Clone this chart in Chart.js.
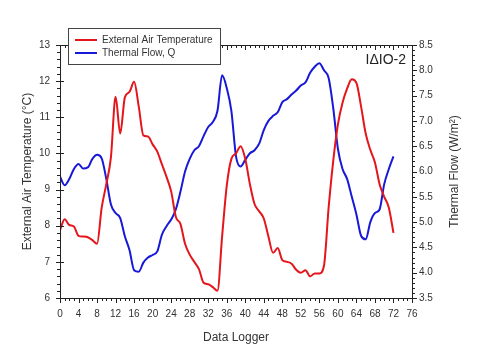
<!DOCTYPE html>
<html>
<head>
<meta charset="utf-8">
<script src="https://cdn.jsdelivr.net/npm/chart.js@4"></script>
<style>
  html, body { margin: 0; padding: 0; background: #fff; }
  #wrap { width: 480px; height: 364px; }
</style>
</head>
<body>
<div id="wrap"><canvas id="chart" width="480" height="364"></canvas></div>
<script>
const logger = [];
for (let i = 0; i <= 72; i++) logger.push(i);

// External air temperature (°C), one reading per logger step
const airTemp = [
  7.88, 8.18, 8.02, 7.98, 7.72, 7.70, 7.68, 7.60, 7.50, 8.50,
  9.15, 9.90, 11.57, 10.55, 11.55, 11.70, 11.98, 11.30, 10.50, 10.47,
  10.25, 10.05, 9.70, 9.35, 8.95, 8.25, 8.05, 7.50, 7.20, 7.00,
  6.80, 6.42, 6.38, 6.30, 6.20, 7.70, 9.10, 9.85, 10.00, 10.20,
  9.85, 9.15, 8.60, 8.40, 8.20, 7.70, 7.25, 7.38, 7.05, 7.00,
  6.95, 6.78, 6.70, 6.77, 6.60, 6.68, 6.68, 6.90, 8.50, 9.80,
  10.80, 11.40, 11.80, 12.05, 11.95, 11.30, 10.55, 10.10, 9.75, 9.15,
  8.80, 8.50, 7.80
];

// Thermal flow Q (W/m2)
const thermalFlow = [
  5.90, 5.73, 5.85, 6.05, 6.15, 6.06, 6.08, 6.25, 6.33, 6.26,
  5.85, 5.35, 5.18, 5.08, 4.72, 4.45, 4.05, 4.02, 4.20, 4.30,
  4.35, 4.42, 4.75, 4.92, 5.05, 5.25, 5.60, 6.00, 6.25, 6.42,
  6.50, 6.70, 6.88, 6.98, 7.20, 7.90, 7.65, 7.20, 6.30, 6.10,
  6.23, 6.36, 6.42, 6.55, 6.82, 7.00, 7.10, 7.17, 7.37, 7.43,
  7.52, 7.60, 7.70, 7.76, 7.95, 8.07, 8.14, 8.00, 7.85, 7.25,
  6.45, 6.05, 5.85, 5.50, 5.15, 4.73, 4.66, 5.00, 5.18, 5.25,
  5.75, 6.05, 6.30
];

const seriesNames = ['External Air Temperature', 'Thermal Flow, Q'];
const seriesColors = ['rgb(228,22,28)', 'rgb(24,24,215)'];

const FONT = '"Liberation Sans", Arial, sans-serif';
const TXT = '#333';

// frame, minor ticks, legend box, label and right title
const decor = {
  id: 'decor',
  afterDraw(chart) {
    const { ctx, chartArea: a, scales } = chart;
    const x = scales.x, y = scales.y, y1 = scales.y1;
    ctx.save();
    ctx.strokeStyle = '#222';
    ctx.lineWidth = 1;
    ctx.strokeRect(a.left + 0.5, a.top + 0.5, a.right - a.left, a.bottom - a.top);

    ctx.beginPath();
    for (let v = 0; v <= 76; v++) {
      const px = Math.round(x.getPixelForValue(v)) + 0.5;
      const len = v % 4 === 0 ? 5 : 3;
      ctx.moveTo(px, a.bottom); ctx.lineTo(px, a.bottom + len);
      ctx.moveTo(px, a.top); ctx.lineTo(px, a.top + len);
    }
    for (let i = 0; i <= 35; i++) {
      const py = Math.round(y.getPixelForValue(6 + i * 0.2)) + 0.5;
      if (i % 5 === 0) { ctx.moveTo(a.left - 4, py); ctx.lineTo(a.left + 4, py); }
      else { ctx.moveTo(a.left - 3, py); ctx.lineTo(a.left, py); }
    }
    for (let i = 0; i <= 50; i++) {
      const py = Math.round(y1.getPixelForValue(3.5 + i * 0.1)) + 0.5;
      const len = i % 5 === 0 ? 5 : 3;
      ctx.moveTo(a.right, py); ctx.lineTo(a.right + len, py);
    }
    ctx.stroke();

    // legend
    ctx.fillStyle = '#fff';
    ctx.fillRect(68, 28, 152, 36);
    ctx.strokeStyle = '#444';
    ctx.strokeRect(68.5, 28.5, 152, 36);
    ctx.font = '10px ' + FONT;
    ctx.textBaseline = 'middle';
    ctx.textAlign = 'left';
    [40, 53].forEach((ly, i) => {
      ctx.strokeStyle = seriesColors[i];
      ctx.lineWidth = 2;
      ctx.beginPath(); ctx.moveTo(75, ly); ctx.lineTo(97, ly); ctx.stroke();
      ctx.fillStyle = TXT;
      ctx.fillText(seriesNames[i], 102, ly);
    });

    ctx.font = '14px ' + FONT;
    ctx.fillStyle = '#222';
    ctx.textAlign = 'right';
    ctx.fillText('IΔIO-2', 406, 60);

    // right axis title, reads bottom to top
    ctx.translate(455, (a.top + a.bottom) / 2);
    ctx.rotate(-Math.PI / 2);
    ctx.textAlign = 'center';
    ctx.font = '12px ' + FONT;
    ctx.fillStyle = TXT;
    ctx.fillText('Thermal Flow (W/m²)', 0, 0);
    ctx.restore();
  }
};

new Chart(document.getElementById('chart'), {
  type: 'line',
  data: {
    datasets: [
      {
        label: seriesNames[0],
        data: logger.map((v, i) => ({ x: v, y: airTemp[i] })),
        borderColor: seriesColors[0], borderWidth: 2, pointRadius: 0,
        cubicInterpolationMode: 'monotone', yAxisID: 'y'
      },
      {
        label: seriesNames[1],
        data: logger.map((v, i) => ({ x: v, y: thermalFlow[i] })),
        borderColor: seriesColors[1], borderWidth: 2, pointRadius: 0,
        cubicInterpolationMode: 'monotone', yAxisID: 'y1'
      }
    ]
  },
  options: {
    responsive: false,
    animation: false,
    layout: { padding: { top: 45, left: 0, right: 0, bottom: 0 } },
    plugins: { legend: { display: false }, tooltip: { enabled: false } },
    scales: {
      x: {
        type: 'linear', min: 0, max: 76,
        grid: { display: false, drawTicks: false },
        border: { display: false },
        ticks: { stepSize: 4, padding: 10, color: TXT, font: { family: FONT, size: 10 }, maxRotation: 0 },
        title: { display: true, text: 'Data Logger', color: TXT, font: { family: FONT, size: 12 }, padding: { top: 0, bottom: 19 } },
        afterFit: s => { s.height = 66; }
      },
      y: {
        position: 'left', min: 6, max: 13,
        grid: { display: false, drawTicks: false },
        border: { display: false },
        ticks: { stepSize: 1, padding: 10, color: TXT, font: { family: FONT, size: 10 } },
        title: { display: true, text: 'External Air Temperature (°C)', color: TXT, font: { family: FONT, size: 12 }, padding: { top: 20, bottom: 0 } },
        afterFit: s => { s.width = 60; }
      },
      y1: {
        position: 'right', min: 3.5, max: 8.5,
        grid: { display: false, drawTicks: false },
        border: { display: false },
        ticks: { stepSize: 0.5, padding: 7, color: TXT, font: { family: FONT, size: 10 }, callback: v => v.toFixed(1) },
        afterFit: s => { s.width = 68; }
      }
    }
  },
  plugins: [decor]
});
</script>
</body>
</html>
